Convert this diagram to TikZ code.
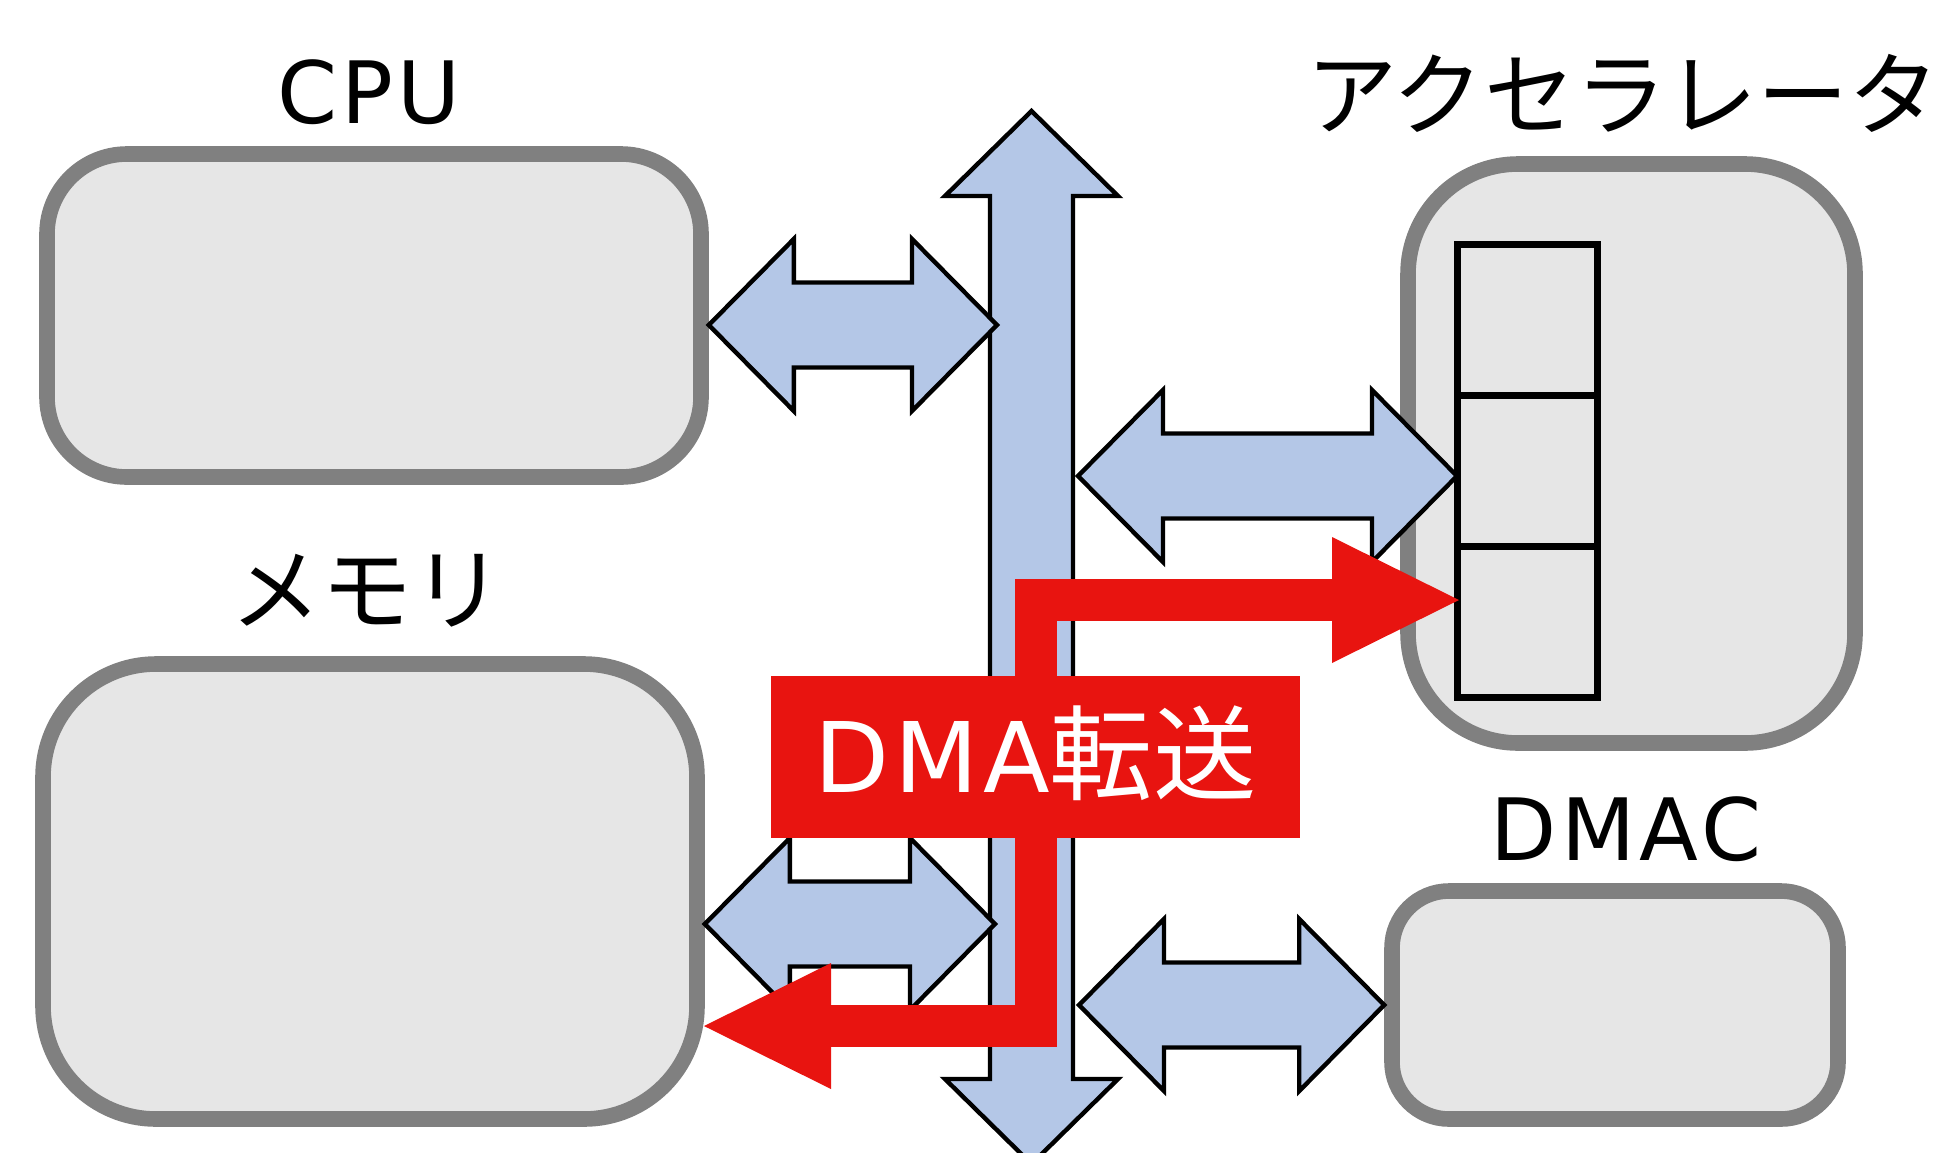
\documentclass[tikz,border=0pt]{standalone}
\usepackage{fontspec}
\setmainfont{DejaVu Sans}[LetterSpace=5]
\newfontfamily\jpfont{Noto Sans CJK JP}[Scale=1.06]
\usepackage{tikz}
\usepackage{xcolor}
\usetikzlibrary{arrows.meta,calc,positioning}
\definecolor{boxgray}{HTML}{E6E6E6}
\definecolor{rimgray}{HTML}{808080}
\definecolor{busblue}{HTML}{B4C7E7}
\definecolor{dmared}{HTML}{E81410}
\tikzset{%
  tipD/.tip={Triangle[length=63.5pt,width=63pt,line width=0pt]},
  unitbox/.style={draw=rimgray, fill=boxgray, line width=7.8pt, inner sep=0pt},
  regcell/.style={draw=black, line width=3.5pt, minimum width=70pt, minimum height=75.5pt, inner sep=0pt, outer sep=0pt},
  busarrow/.style={draw=black, fill=busblue, line width=2.2pt, line join=miter},
  dmapath/.style={draw=dmared, line width=21pt, line join=miter, -tipD},
  lbl/.style={font=\fontsize{43}{48}\selectfont, inner sep=0pt, anchor=base}
}
\newcommand{\hbusarrow}[2]{%
  \draw[busarrow] (#1) -- ++(8.5,-8.6) -- ++(0,4.35) -- ($(#2)+(-8.5,-4.25)$) -- ++(0,-4.35)
    -- (#2) -- ++(-8.5,8.6) -- ++(0,-4.35) -- ($(#1)+(8.5,4.25)$) -- ++(0,4.35) -- cycle;}

\begin{document}
\begin{tikzpicture}[x=5pt,y=-5pt]
\useasboundingbox (0,0) rectangle (194.7,115.2);
\node[unitbox, minimum width=327pt, minimum height=161.5pt, rounded corners=40pt] (cpu) at (37.4,31.55) {};
\node[unitbox, minimum width=327pt, minimum height=227.5pt, rounded corners=56.5pt] (mem) at (37.0,89.15) {};
\node[unitbox, minimum width=223.5pt, minimum height=289.5pt, rounded corners=55pt] (acc) at (163.15,45.35) {};
\node[unitbox, minimum width=223pt, minimum height=114pt, rounded corners=28.5pt] (dmac) at (161.5,100.5) {};
\node[lbl] (cpulbl) at (36.9,12.3) {CPU};
\node[lbl] (memlbl) at (36.7,62.3) {\jpfont メモリ};
\node[lbl] (acclbl) at (162.3,12.8) {\jpfont アクセラレータ};
\node[lbl] (dmaclbl) at (162.6,86.0) {DMAC};
\node[regcell] (reg1) at (152.7,31.95) {};
\node[regcell, below=0pt of reg1] (reg2) {};
\node[regcell, below=0pt of reg2] (reg3) {};
\coordinate (bustop) at (103.15,11.1);
\coordinate (busbot) at (103.15,116.4);
\draw[busarrow] (bustop) -- ++(8.65,8.5) -- ++(-4.5,0) -- ($(busbot)+(4.15,-8.5)$) -- ++(4.5,0)
  -- (busbot) -- ++(-8.65,-8.5) -- ++(4.5,0) -- ($(bustop)+(-4.15,8.5)$) -- ++(-4.5,0) -- cycle;
\coordinate (cpuport) at (99.7,32.5);
\coordinate (memport) at (99.5,92.4);
\coordinate (accport) at (107.8,47.6);
\coordinate (dmacport) at (107.9,100.5);
\hbusarrow{cpu.east |- cpuport}{cpuport}
\hbusarrow{mem.east |- memport}{memport}
\hbusarrow{accport}{reg2.west |- accport}
\hbusarrow{dmacport}{dmac.west}
\coordinate (dmaorg) at (103.55,75.7);
\coordinate (dmadst) at (145.9,60.0);
\coordinate (dmasrc) at (70.4,102.6);
\draw[dmapath] (dmaorg) |- (dmadst);
\draw[dmapath] (dmaorg) |- (dmasrc);
\node[fill=dmared, minimum width=264.5pt, minimum height=81pt, inner sep=0pt, text=white,
  font=\fontsize{48.7}{54}\selectfont, text height=35.5pt, text depth=0pt] (dma) at (dmaorg) {DMA{\jpfont 転送}};
\end{tikzpicture}
\end{document}
